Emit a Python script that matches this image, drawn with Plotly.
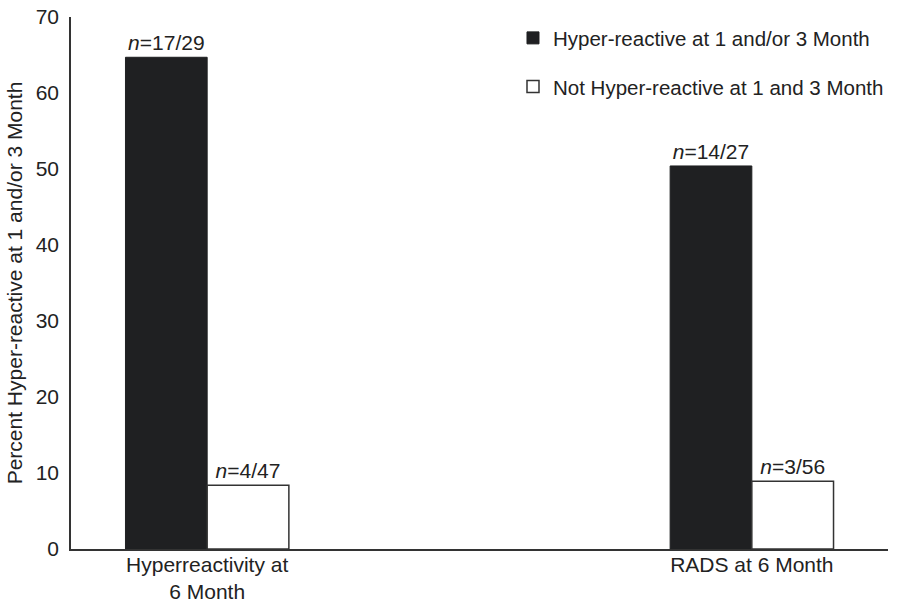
import plotly.graph_objects as go

categories = ["Hyperreactivity at<br>6 Month", "RADS at 6 Month"]
series_names = ["Hyper-reactive at 1 and/or 3 Month", "Not Hyper-reactive at 1 and 3 Month"]
hyper_values = [64.7, 50.4]
not_hyper_values = [8.4, 8.9]
hyper_labels = ["<i>n</i>=17/29", "<i>n</i>=14/27"]
not_hyper_labels = ["<i>n</i>=4/47", "<i>n</i>=3/56"]
y_ticks = [0, 10, 20, 30, 40, 50, 60, 70]

FONT = "Liberation Sans, Arial, sans-serif"

fig = go.Figure()
fig.add_trace(go.Bar(
    x=categories, y=hyper_values, name=series_names[0],
    text=hyper_labels, textposition="outside", cliponaxis=False,
    marker=dict(color="#1f2022", line=dict(color="#1f2022", width=1)),
    textfont=dict(size=21, color="#222"),
    legendgroup="a",
))
fig.add_trace(go.Bar(
    x=categories, y=not_hyper_values, name=series_names[1],
    text=not_hyper_labels, textposition="outside", cliponaxis=False,
    marker=dict(color="white", line=dict(color="#333333", width=1.5)),
    textfont=dict(size=21, color="#222"),
    legendgroup="b",
))

fig.update_layout(
    width=905, height=603,
    margin=dict(l=71, r=17, t=17, b=54, autoexpand=False),
    paper_bgcolor="white", plot_bgcolor="white",
    font=dict(family=FONT, size=21, color="#222"),
    barmode="group", bargap=0.7, bargroupgap=0,
    showlegend=True,
    legend=dict(x=0.541, y=0.998, xanchor="left", yanchor="top",
                font=dict(size=20.5, color="#222"), tracegroupgap=19,
                bgcolor="rgba(0,0,0,0)"),
    xaxis=dict(range=[-0.25, 1.25], showline=True, linecolor="#333",
               linewidth=1.5, ticks="", showgrid=False, automargin=False,
               ticklabelstandoff=-4, tickfont=dict(size=21)),
    yaxis=dict(range=[0, 70], tickvals=y_ticks, showline=True,
               linecolor="#333", linewidth=1.5, ticks="", showgrid=False,
               zeroline=False, tickfont=dict(size=21), automargin=False,
               ticklabelstandoff=6, ticklabeloverflow="allow",
               title=dict(text="Percent Hyper-reactive at 1 and/or 3 Month",
                          font=dict(size=21), standoff=7)),
)

fig.write_html("out.html", config={"displayModeBar": False},
               post_script="document.body.style.margin='0';")
